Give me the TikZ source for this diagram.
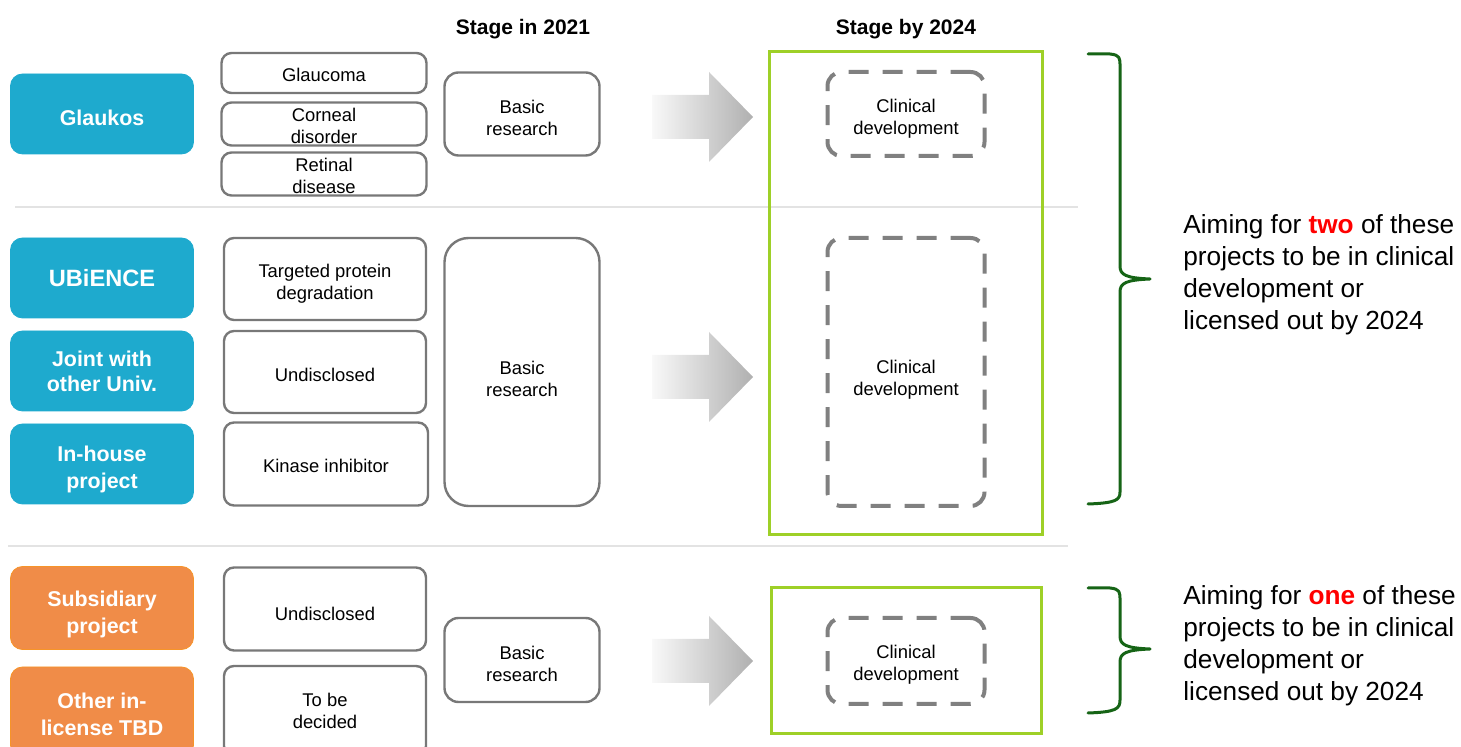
\documentclass[tikz,border=0pt]{standalone}
\usepackage{fontspec}
\setmainfont{Liberation Sans}
\usetikzlibrary{positioning}
\definecolor{PartnerBlue}{RGB}{30,170,206}
\definecolor{SubOrange}{RGB}{240,140,72}
\definecolor{SubOrangeEdge}{RGB}{247,148,40}
\definecolor{BoxGray}{RGB}{120,120,120}
\definecolor{DashGray}{RGB}{128,128,128}
\definecolor{LimeGreen}{RGB}{158,208,40}
\definecolor{BraceGreen}{RGB}{22,100,22}
\definecolor{AimRed}{RGB}{255,0,0}

\begin{document}
\begin{tikzpicture}[x=0.5pt, y=-0.5pt,
    partner/.style={draw=PartnerBlue, fill=PartnerBlue, rounded corners=6pt, text=white,
      font=\bfseries\fontsize{10.7}{12.5}\selectfont, align=center,
      minimum width=91.5pt, minimum height=40pt, inner sep=0pt},
    subsid/.style={partner, draw=SubOrangeEdge, fill=SubOrange, font=\bfseries\fontsize{10.7}{13.5}\selectfont},
    target/.style={draw=BoxGray, line width=1.2pt, rounded corners=5pt, fill=white, align=center,
      font=\fontsize{9.2}{11}\selectfont, minimum width=101pt, inner sep=0pt, text height=20pt},
    stage/.style={target, minimum width=77.5pt, rounded corners=7pt, text height=21.7pt},
    clinical/.style={draw=DashGray, line width=2pt, dash pattern=on 10pt off 7pt, rounded corners=7pt,
      align=center, font=\fontsize{9.2}{11}\selectfont, minimum width=78.5pt, inner sep=0pt, text height=22.7pt},
    goal/.style={draw=LimeGreen, line width=1.5pt, minimum width=136.5pt, inner sep=0pt},
    heading/.style={font=\bfseries\fontsize{10.5}{12}\selectfont},
    sep/.style={draw=gray!22, line width=1pt},
    bracegreen/.style={draw=BraceGreen, line width=1.5pt, line cap=round, line join=round},
    aim/.style={anchor=north west, align=left, inner sep=0pt, font=\fontsize{13.1}{16}\selectfont},
    flow/.style={left color=gray!5, right color=gray!62}
  ]
  \useasboundingbox (0,0) rectangle (1461,747);

  % Headings
  \node[heading] (hd2021) at (523,29) {Stage in 2021};
  \node[heading] (hd2024) at (906,29) {Stage by 2024};

  % Separators
  \draw[sep] (15,207) -- (1078,207);
  \draw[sep] (8,546) -- (1068,546);

  % Glaukos
  \node[partner, text height=11.8pt] (glaukos) at (102,114) {Glaukos};
  \node[target, minimum width=102.5pt, minimum height=20pt, text height=8.7pt] (glaucoma) at (324,73) {Glaucoma};
  \node[target, minimum width=102.5pt, minimum height=21.5pt] (corneal) at (324,124) {Corneal\\disorder};
  \node[target, minimum width=102.5pt, minimum height=21.5pt] (retinal) at (324,174) {Retinal\\disease};
  \node[stage, minimum height=41.5pt] (basicA) at (522,114) {Basic\\research};
  \node[clinical, minimum height=42pt] (clinA) at (906,114) {Clinical\\development};

  % UBiENCE, other universities, in-house
  \node[partner, font=\bfseries\fontsize{11.8}{14}\selectfont] (ubience) at (102,278) {UBiENCE};
  \node[partner] (joint) at (102,371) {Joint with\\other Univ.};
  \node[partner, font=\bfseries\fontsize{10.7}{13.5}\selectfont, text height=26.3pt] (inhouse) at (102,464) {In-house\\project};
  \node[target, minimum height=41pt, text height=22.2pt] (degrader) at (325,279) {Targeted protein\\degradation};
  \node[target, minimum height=41pt, text height=9.7pt] (undiscA) at (325,372) {Undisclosed};
  \node[target, minimum height=41.5pt, minimum width=102pt, text height=8.7pt] (kinase) at (326,464) {Kinase inhibitor};
  \node[stage, minimum height=134pt, rounded corners=12pt, text height=24.2pt] (basicB) at (522,372) {Basic\\research};
  \node[clinical, minimum height=134pt, text height=25.7pt] (clinB) at (906,372) {Clinical\\development};

  % Subsidiary and in-licensing
  \node[subsid, minimum height=41.5pt, text height=27.3pt] (subsid) at (102,608) {Subsidiary\\project};
  \node[subsid, minimum height=45pt, text height=23.8pt] (inlicense) at (102,712) {Other in-\\license TBD};
  \node[target, minimum height=41.5pt, text height=11.7pt] (undiscB) at (325,609) {Undisclosed};
  \node[target, minimum height=45pt, text height=17.7pt] (tbd) at (325,711) {To be\\decided};
  \node[stage, minimum height=42pt] (basicC) at (522,660) {Basic\\research};
  \node[clinical, minimum height=43pt, text height=21.2pt] (clinC) at (906,661) {Clinical\\development};

  % Target frames
  \node[goal, minimum height=241.5pt] (goalA) at (905.5,293.5) {};
  \node[goal, minimum height=72.5pt, minimum width=135pt] (goalB) at (906,660.5) {};

  % Progress arrows
  \foreach \yc in {117,377,661}
    \shade[flow] (652,\yc-22) -- (709,\yc-22) -- (709,\yc-45) -- (753,\yc)
      -- (709,\yc+45) -- (709,\yc+22) -- (652,\yc+22) -- cycle;

  % Braces
  \draw[bracegreen] (1088,54) -- (1110,54) .. controls (1120,55) and (1120,58) .. (1120,66)
    -- (1120,266) .. controls (1120,275) and (1126,278) .. (1150,279)
    .. controls (1126,280) and (1120,283) .. (1120,292)
    -- (1120,492) .. controls (1120,500) and (1116,503) .. (1088,504);
  \draw[bracegreen] (1088,588) -- (1110,588) .. controls (1120,589) and (1120,592) .. (1120,600)
    -- (1120,636) .. controls (1120,645) and (1126,648) .. (1150,649)
    .. controls (1126,650) and (1120,653) .. (1120,662)
    -- (1120,700) .. controls (1120,709) and (1116,712) .. (1088,713);

  % Targets
  \node[aim] (aimTwo) at (1183,214) {Aiming for {\color{AimRed}\bfseries two} of these\\projects to be in clinical\\development or\\licensed out by 2024};
  \node[aim] (aimOne) at (1183,585) {Aiming for {\color{AimRed}\bfseries one} of these\\projects to be in clinical\\development or\\licensed out by 2024};
\end{tikzpicture}
\end{document}
